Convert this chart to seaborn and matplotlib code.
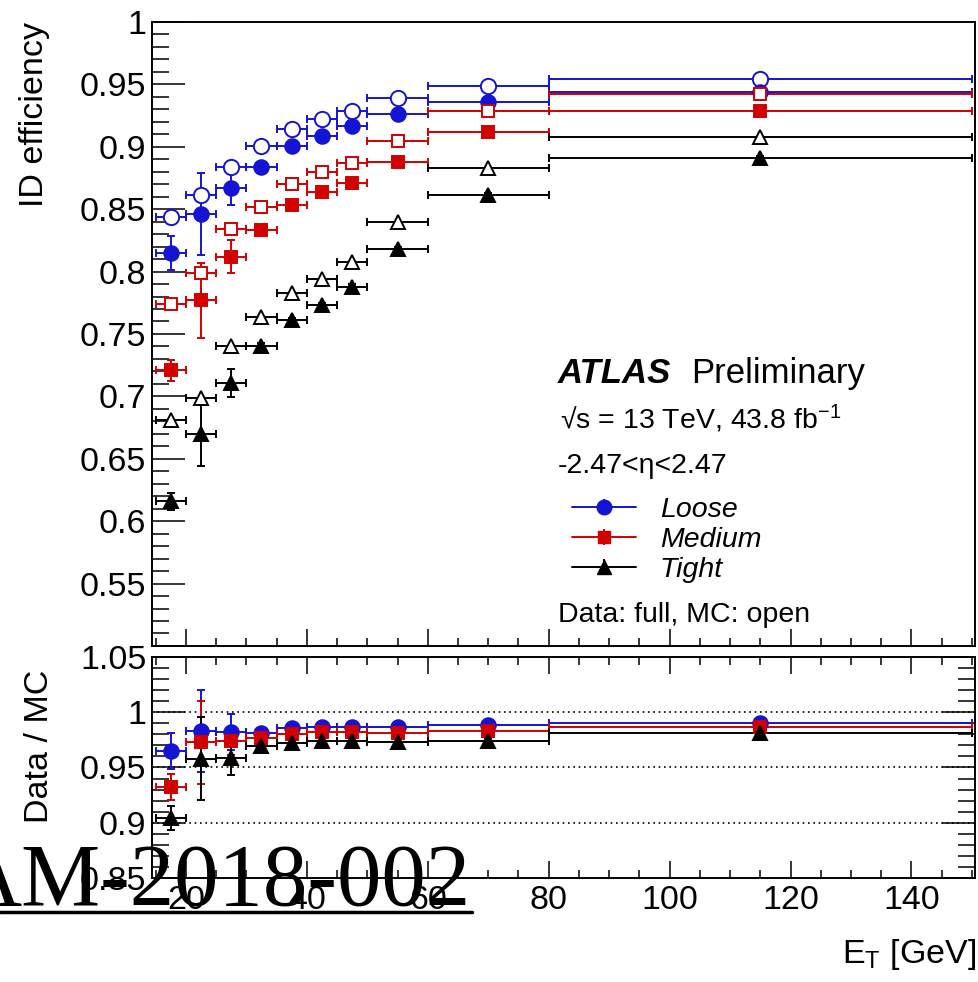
import matplotlib
matplotlib.use("Agg")
import matplotlib.pyplot as plt
from matplotlib.ticker import MultipleLocator, FuncFormatter
from matplotlib.lines import Line2D
import seaborn as sns

sns.set_theme(style="ticks")
plt.rcParams["font.family"] = ["Liberation Sans", "DejaVu Sans"]
plt.rcParams["mathtext.fontset"] = "custom"
plt.rcParams["mathtext.rm"] = "Liberation Sans"
plt.rcParams["mathtext.it"] = "Liberation Sans:italic"
plt.rcParams["mathtext.bf"] = "Liberation Sans:bold"
for key in ("text.color", "axes.labelcolor", "xtick.color", "ytick.color", "axes.edgecolor"):
    plt.rcParams[key] = "black"

# ---------- data ----------
et_centers = [17.5, 22.5, 27.5, 32.5, 37.5, 42.5, 47.5, 55, 70, 115]
et_halfwidth = [2.5, 2.5, 2.5, 2.5, 2.5, 2.5, 2.5, 5, 10, 35]

loose_data = [0.815, 0.846, 0.867, 0.884, 0.901, 0.909, 0.917, 0.926, 0.936, 0.944]
loose_data_err = [0.0136, 0.033, 0.014, 0.003, 0.002, 0.002, 0.002, 0.002, 0.002, 0.002]
loose_mc = [0.844, 0.861, 0.884, 0.901, 0.914, 0.922, 0.929, 0.939, 0.949, 0.954]

medium_data = [0.721, 0.777, 0.812, 0.833, 0.853, 0.864, 0.871, 0.888, 0.912, 0.929]
medium_data_err = [0.0085, 0.030, 0.0133, 0.003, 0.002, 0.002, 0.002, 0.002, 0.002, 0.002]
medium_mc = [0.774, 0.799, 0.834, 0.852, 0.870, 0.880, 0.887, 0.905, 0.929, 0.942]

tight_data = [0.616, 0.670, 0.711, 0.740, 0.761, 0.773, 0.788, 0.818, 0.861, 0.891]
tight_data_err = [0.0068, 0.026, 0.0113, 0.003, 0.002, 0.002, 0.002, 0.002, 0.002, 0.002]
tight_mc = [0.681, 0.699, 0.740, 0.764, 0.783, 0.794, 0.808, 0.840, 0.883, 0.908]

loose_ratio = [0.965, 0.983, 0.982, 0.981, 0.986, 0.987, 0.987, 0.987, 0.988, 0.990]
loose_ratio_err = [0.016, 0.0375, 0.016, 0.003, 0.002, 0.002, 0.002, 0.002, 0.002, 0.002]
medium_ratio = [0.932, 0.973, 0.974, 0.977, 0.980, 0.982, 0.982, 0.981, 0.983, 0.987]
medium_ratio_err = [0.0117, 0.0375, 0.013, 0.003, 0.002, 0.002, 0.002, 0.002, 0.002, 0.002]
tight_ratio = [0.904, 0.958, 0.959, 0.969, 0.972, 0.974, 0.974, 0.973, 0.974, 0.981]
tight_ratio_err = [0.011, 0.0375, 0.0157, 0.004, 0.003, 0.003, 0.003, 0.003, 0.003, 0.003]

ratio_lines = [0.9, 0.95, 1.0]
legend_labels = ["Loose", "Medium", "Tight"]

# ---------- style ----------
BLUE = "#1414d2"
RED = "#d20000"
BLACK = "#000000"
LW = 1.4
LABEL_SIZE = 24.5
SMALL = 20.5

fig = plt.figure(figsize=(9.79, 9.82), dpi=100)
ax_top = fig.add_axes([0.1553, 0.3422, 0.8406, 0.6354])
ax_bot = fig.add_axes([0.1553, 0.1059, 0.8406, 0.2251])


def draw(ax, y, yerr, color, marker, ms, mfc):
    return ax.errorbar(et_centers, y, xerr=et_halfwidth, yerr=yerr, fmt=marker,
                       color=color, mfc=mfc, mec=color, ms=ms, mew=LW,
                       elinewidth=LW, capsize=3.2, capthick=LW)


styles = [(BLUE, "o", 10.5), (RED, "s", 8.8), (BLACK, "^", 9.5)]

# top panel: MC (open) and data (full)
for (c, m, ms), mc, d, de in zip(styles, [loose_mc, medium_mc, tight_mc],
                                 [loose_data, medium_data, tight_data],
                                 [loose_data_err, medium_data_err, tight_data_err]):
    draw(ax_top, mc, None, c, m, ms + 0.5 if m == "o" else ms, "white")
    draw(ax_top, d, de, c, m, ms, c)

# ratio panel
for yv in ratio_lines:
    ax_bot.axhline(yv, color="black", lw=1.2, ls=(0, (1, 2.2)), zorder=1)
for (c, m, ms), r, re in zip(styles, [loose_ratio, medium_ratio, tight_ratio],
                             [loose_ratio_err, medium_ratio_err, tight_ratio_err]):
    draw(ax_bot, r, re, c, m, ms, c)

fmt = FuncFormatter(lambda v, p: "" if v < 0.52 else f"{v:g}")
fmt_bot = FuncFormatter(lambda v, p: f"{v:g}")

ax_top.set_xlim(14.4, 150.5)
ax_top.set_ylim(0.5, 1.0)
ax_bot.set_xlim(14.4, 150.5)
ax_bot.set_ylim(0.85, 1.05)

for ax in (ax_top, ax_bot):
    ax.xaxis.set_major_locator(MultipleLocator(20))
    ax.xaxis.set_minor_locator(MultipleLocator(5))
    ax.yaxis.set_major_locator(MultipleLocator(0.05))
    ax.yaxis.set_minor_locator(MultipleLocator(0.01))
    for sp in ax.spines.values():
        sp.set_linewidth(LW)
        sp.set_visible(True)
        sp.set_color("black")
    ax.grid(False)

ax_top.yaxis.set_major_formatter(fmt)
ax_bot.yaxis.set_major_formatter(fmt_bot)
ax_bot.xaxis.set_major_formatter(fmt_bot)

ax_top.tick_params(axis="y", which="major", direction="in", length=23.8, width=1.1,
                   left=True, right=False, labelsize=LABEL_SIZE, pad=4)
ax_top.tick_params(axis="y", which="minor", direction="in", length=11.9, width=1.1,
                   left=True, right=False)
ax_top.tick_params(axis="x", which="major", direction="in", length=12.2, width=1.1,
                   bottom=True, top=False, labelbottom=False)
ax_top.tick_params(axis="x", which="minor", direction="in", length=6, width=1.1,
                   bottom=True, top=False)

ax_bot.tick_params(axis="y", which="major", direction="in", length=23.8, width=1.1,
                   left=True, right=True, labelsize=LABEL_SIZE, pad=4)
ax_bot.tick_params(axis="y", which="minor", direction="in", length=11.9, width=1.1,
                   left=True, right=True)
ax_bot.tick_params(axis="x", which="major", direction="in", length=12.5, width=1.1,
                   bottom=True, top=True, labelsize=LABEL_SIZE, pad=5)
ax_bot.tick_params(axis="x", which="minor", direction="in", length=6, width=1.1,
                   bottom=True, top=True)

ax_top.set_ylabel("ID efficiency", fontsize=LABEL_SIZE, loc="top")
ax_top.yaxis.set_label_coords(-0.124, 1.0)
ax_bot.set_ylabel("Data / MC", fontsize=LABEL_SIZE, loc="top")
ax_bot.yaxis.set_label_coords(-0.118, 0.941)

fig.text(976 / 979, 1 - 963 / 982, r"E$_{\mathrm{T}}$ [GeV]", ha="right",
         va="baseline", fontsize=LABEL_SIZE)

# labels inside the top panel
fig.text(558 / 979, 1 - 383 / 982, "ATLAS", fontsize=25, weight="bold",
         style="italic", va="baseline")
fig.text(691 / 979, 1 - 383 / 982, "Preliminary", fontsize=25, va="baseline")
fig.text(560 / 979, 1 - 429 / 982, r"√s = 13 TeV, 43.8 fb$^{-1}$", fontsize=SMALL,
         va="baseline")
fig.text(558 / 979, 1 - 473 / 982, "-2.47<η<2.47", fontsize=SMALL, va="baseline")
fig.text(558 / 979, 1 - 622 / 982, "Data: full, MC: open", fontsize=SMALL,
         va="baseline")

# legend: marker on a horizontal line, with a short vertical bar
handles = []
for c, m, ms in styles:
    body = Line2D([], [], color=c, lw=LW, marker=m, ms=ms, mfc=c, mec=c)
    vbar = Line2D([], [], color=c, ls="none", marker="|", ms=11, mew=LW)
    handles.append((body, vbar))

leg = ax_top.legend(handles=handles, labels=legend_labels,
                    loc="upper left", bbox_to_anchor=(572 / 979, 1 - 497 / 982),
                    bbox_transform=fig.transFigure, frameon=False,
                    prop={"family": "Liberation Sans", "style": "italic", "size": SMALL},
                    borderpad=0, borderaxespad=0, handlelength=2.24,
                    handletextpad=0.84, labelspacing=0.14)

# document tag overlay
fig.text(470 / 979, 1 - 905 / 982, "AM-2018-002", family="Liberation Serif",
         fontsize=64, ha="right", va="baseline", color="black", zorder=20)
fig.add_artist(Line2D([0, 472 / 979], [1 - 911.5 / 982] * 2,
                      transform=fig.transFigure, color="black", lw=2.5, zorder=20))

fig.savefig("out.png", dpi=100)
